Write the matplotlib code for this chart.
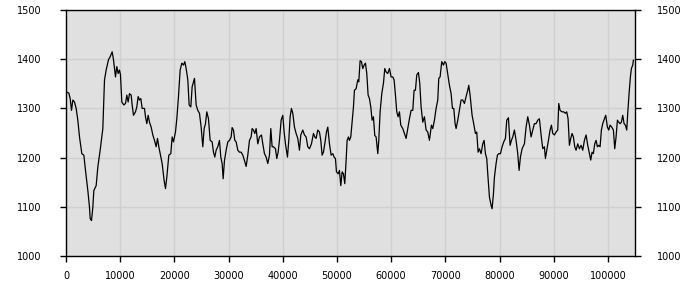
import matplotlib
matplotlib.use("Agg")
import matplotlib.pyplot as plt

x_vals = [0, 523, 769, 1015, 1261, 1569, 1876, 2184, 2491, 2921, 3291, 3598, 4029, 4336, 4459, 4705,
          4951, 5136, 5566, 5874, 6304, 6796, 7104, 7411, 7842, 8149, 8518, 8764, 9133, 9379, 9625,
          9871, 10055, 10301, 10670, 10978, 11224, 11470, 11716, 12024, 12208, 12454, 12823, 13069,
          13315, 13561, 13807, 14053, 14484, 14668, 14914, 15160, 15406, 15714, 16021, 16329, 16636,
          16882, 17128, 17374, 17743, 18112, 18358, 18604, 18973, 19342, 19588, 19834, 20203, 20449,
          20756, 21064, 21372, 21679, 21925, 22171, 22479, 22724, 23032, 23278, 23524, 23708, 24016,
          24324,
          24631, 24939, 25246, 25492, 25738, 25984, 26292, 26599, 26968, 27214, 27460, 27706, 28014,
          28321, 28567, 28813, 28998, 29244, 29551, 29859, 30166, 30474, 30658, 30904, 31150, 31396,
          31704, 32011, 32319, 32626, 32934, 33241, 33549, 33856, 34164, 34348, 34594, 34840, 35086,
          35394, 35701, 36070, 36316, 36624, 36931, 37239, 37546, 37792, 38038, 38284, 38653, 38899,
          39145, 39391, 39699, 40006, 40252, 40498, 40867, 41113, 41359, 41605, 41851, 42159, 42466,
          42774, 43081, 43327, 43696, 44004, 44311, 44619, 44926, 45295, 45664, 45910, 46156, 46464,
          46771, 47017, 47263, 47509, 47755, 48063, 48309, 48616, 48924, 49231, 49477, 49723, 49908,
          50215, 50461, 50707, 50953, 51199, 51445, 51691, 51876, 52122,
          52306, 52552, 52798, 53044, 53229, 53536, 53844, 54028, 54274, 54520, 54766, 55012, 55258,
          55504, 55750, 55996, 56242, 56488, 56734, 56980, 57226, 57534, 57718, 57964, 58272, 58579,
          58825, 59071, 59379, 59686, 59994, 60301, 60547, 60793, 61039, 61285, 61531, 61777, 62146,
          62454, 62761, 63069, 63376, 63684, 63991, 64237, 64483, 64729, 65036, 65282, 65528, 65836,
          66143, 66451, 66758, 67066, 67435, 67681, 67989, 68296, 68604, 68788, 69034, 69342, 69649,
          69895, 70141, 70387, 70756, 71064, 71310, 71556, 71802, 71986, 72294, 72601, 72909, 73216,
          73524, 73831, 74139, 74323, 74569, 74938, 75184, 75553, 75799, 76045, 76291, 76599, 76906,
          77152, 77398, 77644,
          77829, 78136, 78444, 78628, 78874, 79059, 79366, 79612, 79858, 80166, 80473, 80781, 81088,
          81334, 81642, 81949, 82195, 82441, 82749, 83056, 83364, 83610, 83856, 84163, 84594, 84901,
          85209, 85516, 85824, 86131, 86439, 86746, 87054, 87361, 87669, 87976, 88284, 88468, 88776,
          89083, 89329, 89575, 89821, 90129, 90436, 90744, 90928, 91174, 91543, 91851, 92158, 92404,
          92650, 92896, 93142, 93388, 93634, 93880, 94126, 94434, 94741, 95049, 95356, 95664, 95971,
          96279, 96586, 96832, 97078, 97324, 97570, 97816, 98062, 98308, 98554, 98800, 99046, 99354,
          99600, 99907, 100153, 100399, 100707, 101014, 101260, 101506, 101752, 101998, 102244,
          102490, 102736, 102982, 103228, 103474, 103659, 103905, 104150, 104335, 104581, 104704]

y_vals = [1334, 1331, 1320, 1296, 1317, 1313, 1300, 1276, 1242, 1208, 1205, 1174, 1133, 1099, 1076, 1072,
          1099, 1133, 1143, 1181, 1215, 1259, 1358, 1378, 1399, 1405, 1415, 1399, 1364, 1385, 1371,
          1378, 1368, 1313, 1307, 1310, 1327, 1313, 1330, 1327, 1307, 1286, 1293, 1303,
          1324, 1317, 1320, 1300, 1300, 1283, 1269, 1286, 1272, 1262, 1246, 1235, 1222,
          1239, 1222, 1208, 1188, 1153, 1137, 1160, 1205, 1208, 1242, 1232, 1252, 1279,
          1324, 1378, 1392, 1388, 1395, 1381, 1358, 1307, 1303, 1344, 1354, 1361, 1307,
          1296,
          1290, 1262, 1222, 1259, 1269, 1293, 1279, 1235, 1232, 1211, 1201, 1215, 1222,
          1235, 1201, 1188, 1157, 1194, 1215, 1232, 1235, 1242, 1261, 1256, 1235, 1232,
          1215, 1211, 1211, 1205, 1194, 1182, 1205, 1235, 1242, 1259, 1256, 1249, 1259,
          1228, 1242, 1246, 1228, 1208, 1201, 1188, 1205, 1259, 1222, 1222, 1218, 1198,
          1211, 1235, 1276, 1286, 1252, 1228, 1201, 1235, 1283, 1300, 1290, 1262, 1249,
          1239, 1215, 1246, 1256, 1246, 1242, 1222, 1218, 1228, 1249, 1242, 1239, 1256,
          1252, 1235, 1205, 1211, 1228, 1252, 1262, 1228, 1205, 1208, 1201, 1198, 1171,
          1167, 1174, 1143, 1171, 1167, 1147, 1194, 1235, 1242,
          1235, 1242, 1272, 1303, 1337, 1340, 1358, 1354, 1397, 1395, 1381, 1388, 1392,
          1371, 1327, 1320, 1303, 1276, 1283, 1245, 1242, 1208, 1235, 1293, 1330, 1351,
          1381, 1374, 1371, 1381, 1364, 1364, 1358, 1327, 1293, 1283, 1293, 1266, 1259,
          1249, 1239, 1259, 1279, 1296, 1296, 1337, 1337, 1368, 1373, 1351, 1303, 1272,
          1283, 1256, 1252, 1235, 1266, 1259, 1276, 1300, 1317, 1361, 1364, 1395, 1388,
          1395, 1392, 1374, 1347, 1330, 1300, 1300, 1269, 1259, 1276, 1296, 1317, 1317,
          1310, 1324, 1337, 1347, 1327, 1286, 1272, 1249, 1252, 1211, 1218, 1208, 1228,
          1235, 1208, 1198,
          1167, 1120, 1103, 1096, 1126, 1160, 1188, 1205, 1208, 1208, 1222, 1232, 1239,
          1276, 1281, 1225, 1235, 1242, 1256, 1235, 1208, 1174, 1201, 1218, 1228, 1262,
          1283, 1266, 1242, 1256, 1269, 1269, 1276, 1279, 1246, 1218, 1222, 1198, 1218,
          1239, 1256, 1266, 1249, 1246, 1252, 1256, 1310, 1296, 1293, 1293, 1290, 1293,
          1279, 1225, 1239, 1249, 1242, 1222, 1215, 1228, 1218, 1225, 1215, 1235, 1246,
          1225, 1208, 1195, 1211, 1208, 1228, 1235, 1222, 1225, 1222, 1256, 1269, 1279,
          1286, 1262, 1256, 1266, 1262, 1256, 1218, 1242, 1276, 1272, 1269,
          1272, 1286, 1269, 1266, 1256, 1290, 1330, 1364, 1381, 1388, 1398]

x_ticks = [0, 10000, 20000, 30000, 40000, 50000, 60000, 70000, 80000, 90000, 100000]
y_ticks = [1000, 1100, 1200, 1300, 1400, 1500]
x_range = (0, 105000)
y_range = (1000, 1500)

fig = plt.figure(figsize=(7, 3), dpi=100)
ax = fig.add_axes([66 / 700, 44 / 300, 569 / 700, 246 / 300])
ax.set_facecolor('#e0e0e0')
ax.plot(x_vals, y_vals, color='black', linewidth=0.9)
ax.set_xlim(*x_range)
ax.set_ylim(*y_range)
ax.set_xticks(x_ticks)
ax.set_yticks(y_ticks)
ax.grid(True, color='#d0d0d0', linewidth=1)
ax.set_axisbelow(True)
for s in ax.spines.values():
    s.set_color('black')
    s.set_linewidth(1)
ax.tick_params(axis='x', direction='out', length=4, width=1, pad=7, labelsize=7)
ax.tick_params(axis='y', direction='out', length=4, width=1, pad=13.5, labelsize=7)

ax2 = ax.twinx()
ax2.set_ylim(*y_range)
ax2.set_yticks(y_ticks)
ax2.tick_params(axis='y', direction='out', length=4, width=1, pad=11.5, labelsize=7)
for s in ax2.spines.values():
    s.set_visible(False)

fig.savefig('out.png', dpi=100)
